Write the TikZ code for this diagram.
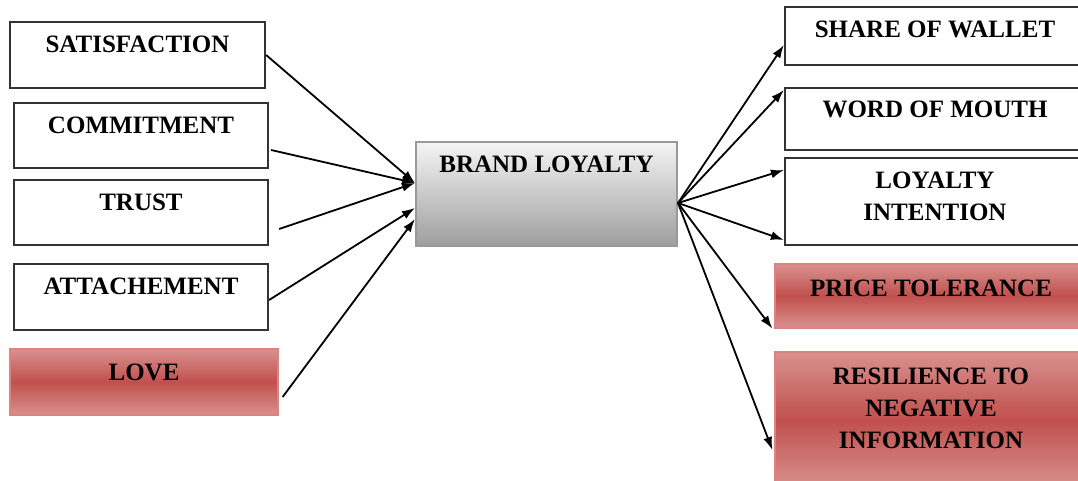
\documentclass[tikz,border=0pt]{standalone}
\usepackage{fontspec}
\setmainfont{Liberation Serif}
\usetikzlibrary{arrows.meta}
\definecolor{redlight}{RGB}{217,145,143}
\definecolor{reddark}{RGB}{192,80,77}
\definecolor{redline}{RGB}{222,130,128}
\begin{document}
\begin{tikzpicture}[x=1pt,y=-1pt,
  wbox/.style={draw=black!80,line width=2.2pt,fill=white,inner sep=0pt},
  rbox/.style={draw=redline,line width=1.2pt,top color=redlight,bottom color=redlight,middle color=reddark,inner sep=0pt},
  gbox/.style={draw=black!40,line width=2pt,top color=black!4,bottom color=black!38,inner sep=0pt},
  lbl/.style={anchor=north,inner sep=0pt,align=center,font=\fontsize{25}{32}\selectfont\bfseries},
  conn/.style={line width=1.8pt,-{Latex[length=13pt,width=9pt]}}]
\useasboundingbox (0,0) rectangle (1078,481);
\fill[white] (0,0) rectangle (1078,481);
% left boxes
\node[wbox,minimum width=255pt,minimum height=66pt] (sat) at (137.5,55) {};
\node[lbl] (satT) at ([yshift=-15pt]sat.north) {SATISFACTION};
\node[wbox,minimum width=254pt,minimum height=65pt] (com) at (141,135.5) {};
\node[lbl] (comT) at ([yshift=-15pt]com.north) {COMMITMENT};
\node[wbox,minimum width=254pt,minimum height=65pt] (tru) at (141,212.5) {};
\node[lbl] (truT) at ([yshift=-15pt]tru.north) {TRUST};
\node[wbox,minimum width=254pt,minimum height=66pt] (att) at (141,297) {};
\node[lbl] (attT) at ([yshift=-15pt]att.north) {ATTACHEMENT};
\node[rbox,minimum width=268pt,minimum height=66pt] (love) at (144,382) {};
\node[lbl] (loveT) at ([yshift=-15pt]love.north) {LOVE};
% centre
\node[gbox,minimum width=261pt,minimum height=104pt] (bl) at (546.5,194) {};
\node[lbl] (blT) at ([yshift=-15pt]bl.north) {BRAND LOYALTY};
% right boxes
\node[wbox,minimum width=300pt,minimum height=58pt] (sow) at (935,36) {};
\node[lbl] (sowT) at ([yshift=-15pt]sow.north) {SHARE OF WALLET};
\node[wbox,minimum width=300pt,minimum height=62pt] (wom) at (935,119) {};
\node[lbl] (womT) at ([yshift=-14pt]wom.north) {WORD OF MOUTH};
\node[wbox,minimum width=300pt,minimum height=87pt] (li) at (935,201.5) {};
\node[lbl] (liT) at ([yshift=-15pt]li.north) {LOYALTY\\INTENTION};
\node[rbox,minimum width=312pt,minimum height=64pt] (pt) at (931,296) {};
\node[lbl] (ptT) at ([yshift=-16pt]pt.north) {PRICE TOLERANCE};
\node[rbox,minimum width=312pt,minimum height=136pt] (res) at (931,420) {};
\node[lbl] (resT) at ([yshift=-16pt]res.north) {RESILIENCE TO\\NEGATIVE\\INFORMATION};
% left connectors
\draw[conn] (sat.east) -- ([yshift=11pt]bl.west);
\draw[conn] ([xshift=2pt,yshift=-14.5pt]com.east) -- ([yshift=11pt]bl.west);
\draw[conn] ([xshift=10pt,yshift=-16.5pt]tru.east) -- ([yshift=11pt]bl.west);
\draw[conn] ([yshift=-3pt]att.east) -- ([yshift=-14pt]bl.west);
\draw[conn] ([xshift=4pt,yshift=-15pt]love.east) -- ([yshift=-25pt]bl.west);
% right connectors
\coordinate (out) at ([yshift=-9pt]bl.east);
\draw[conn] (out) -- ([yshift=-9pt]sow.west);
\draw[conn] (out) -- ([yshift=29pt]wom.west);
\draw[conn] (out) -- ([yshift=31.5pt]li.west);
\draw[conn] (out) -- ([yshift=-38.5pt]li.west);
\draw[conn] (out) -- ([xshift=-2pt]pt.south west);
\draw[conn] (out) -- ([xshift=-2pt,yshift=-30pt]res.west);
\end{tikzpicture}
\end{document}
